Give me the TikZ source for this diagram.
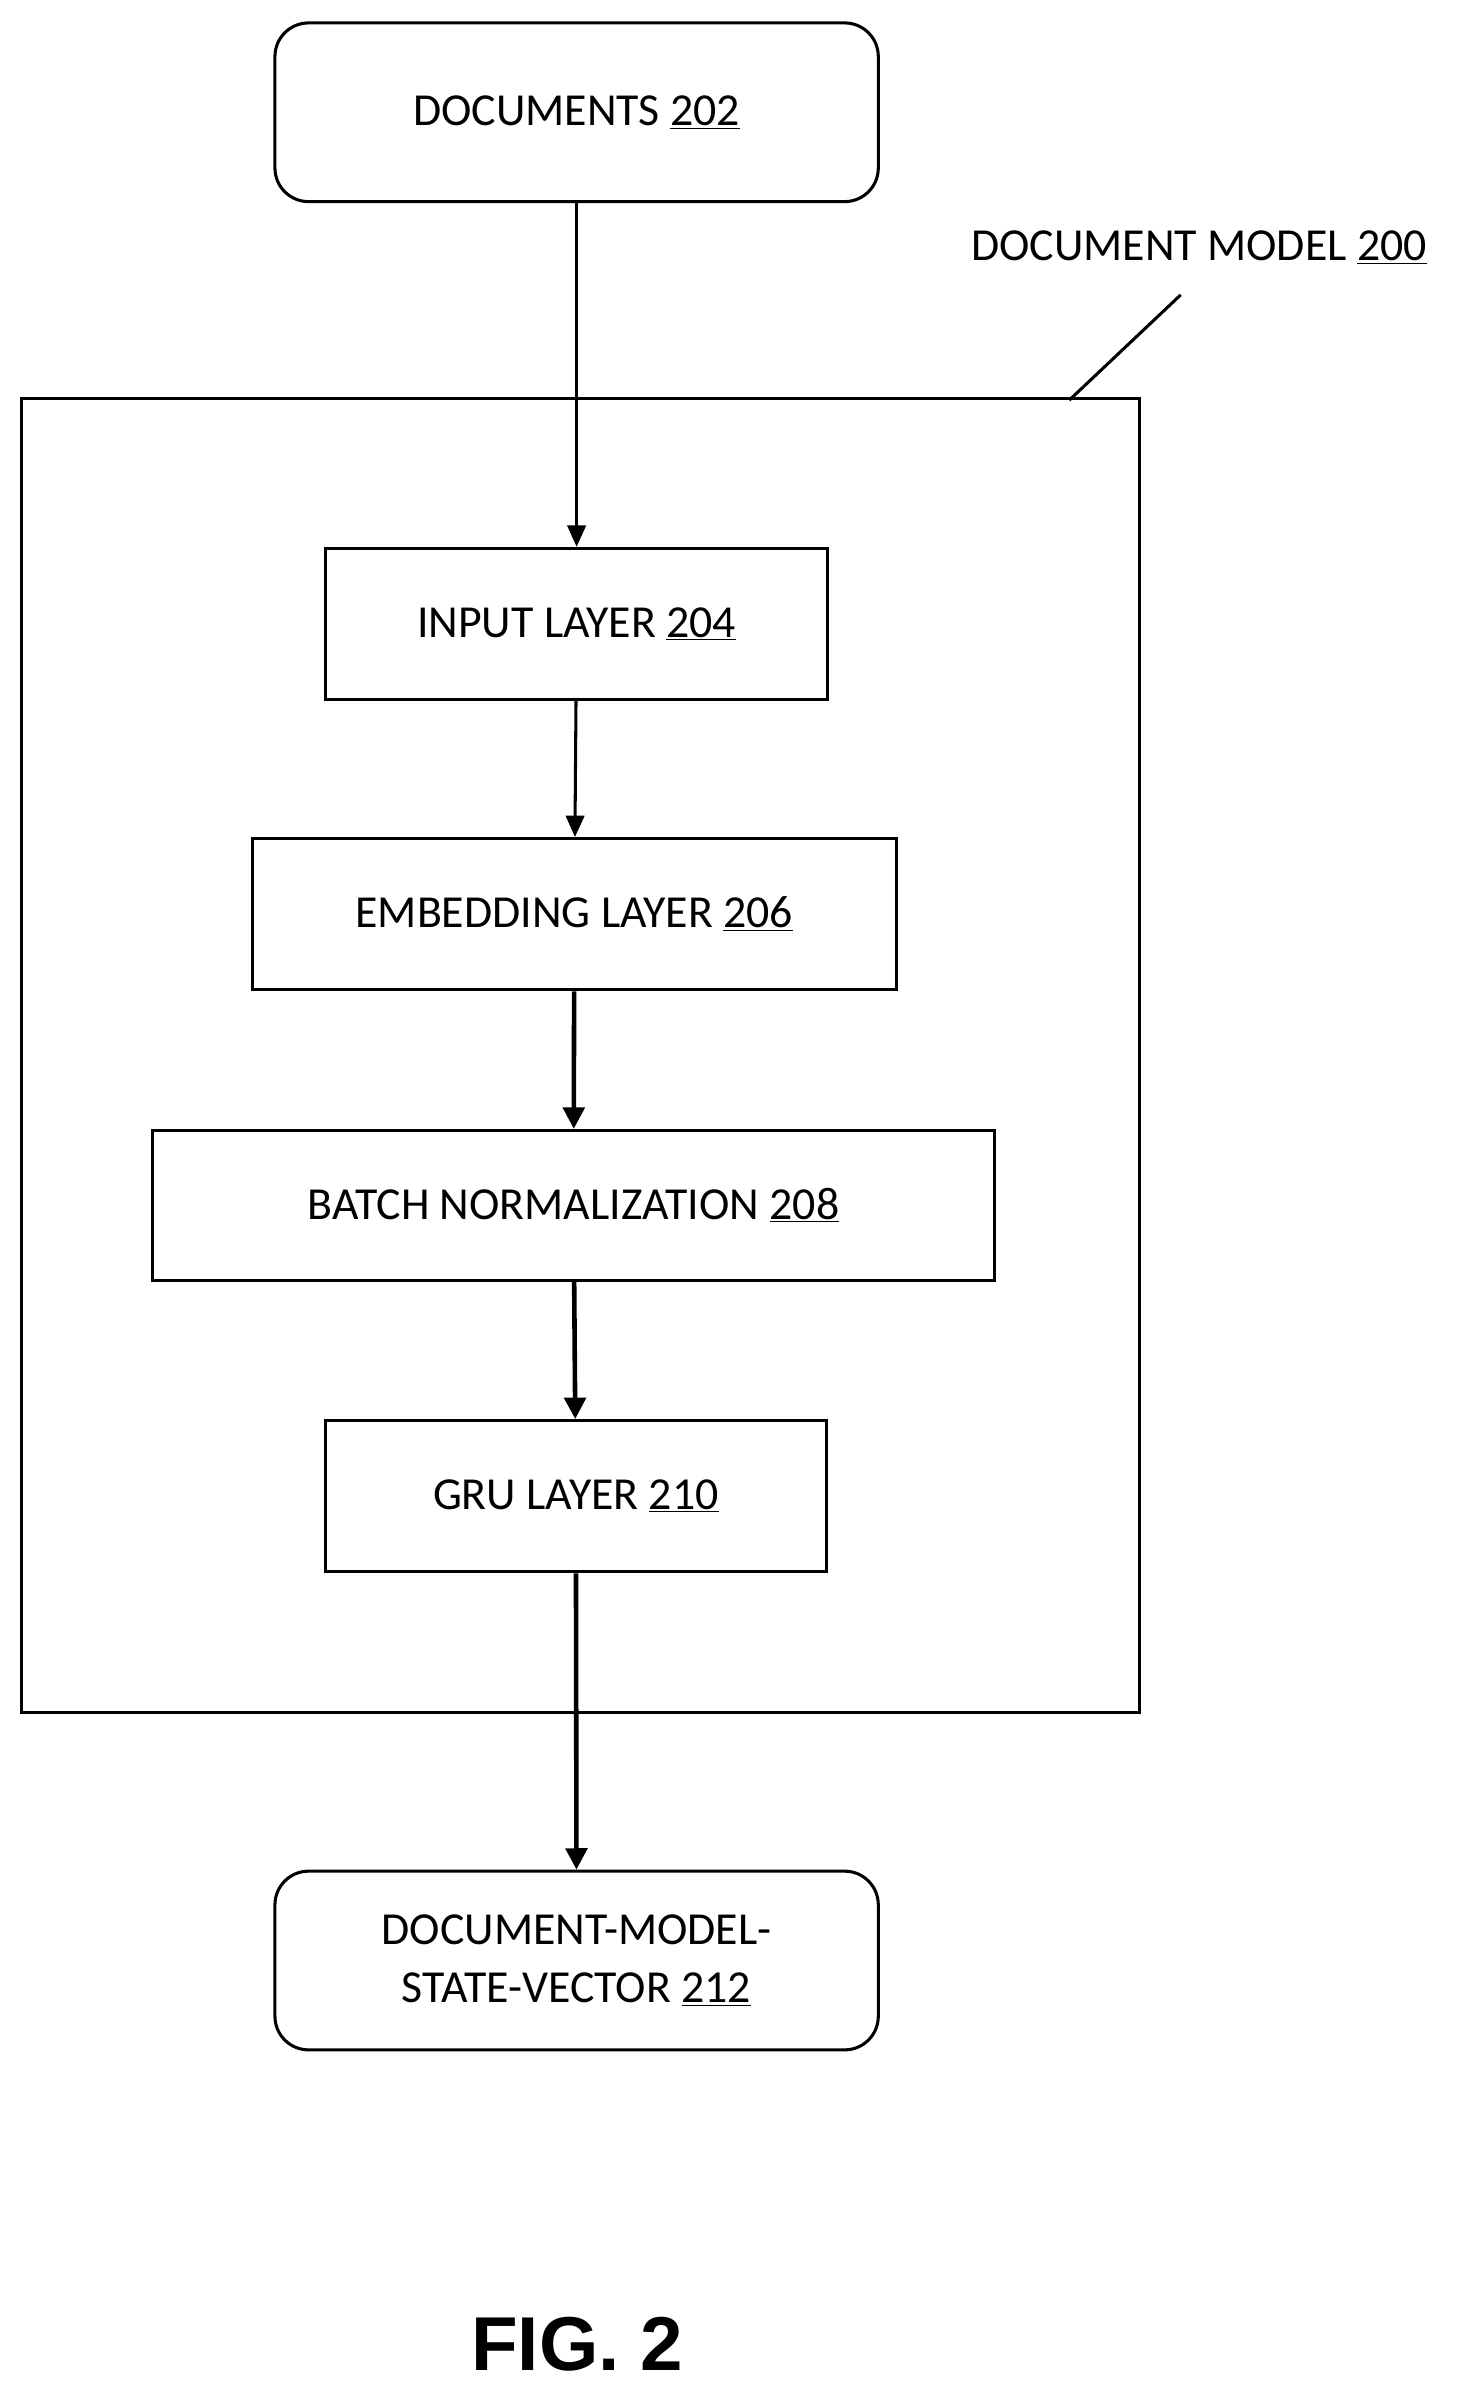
\documentclass[tikz,border=0pt]{standalone}
\usepackage{fontspec}
\setmainfont{Carlito}
\newfontfamily\figfont{Liberation Sans}
\usetikzlibrary{arrows.meta}
\begin{document}
\begin{tikzpicture}[x=1pt,y=-1pt,
  box/.style={draw,line width=2pt,font=\fontsize{30}{38}\selectfont,align=center},
  rbox/.style={box,rounded corners=22pt},
  arr/.style={line width=2pt,-{Triangle[length=14pt,width=12pt]}},
  tarr/.style={line width=3pt,-{Triangle[length=14pt,width=14pt]}}]
\useasboundingbox (0,0) rectangle (960,1566);
\draw[line width=2pt] (14,261) rectangle (746,1121);
\node[rbox,minimum width=395pt,minimum height=117pt] (doc) at (377.5,73.5) {DOCUMENTS \underline{202}};
\node[font=\fontsize{30}{38}\selectfont] (dm) at (785,162) {DOCUMENT MODEL \underline{200}};
\coordinate (l1) at (773,193);
\coordinate (l2) at (700,262);
\draw[line width=2pt] (l1) -- (l2);
\node[box,minimum width=329pt,minimum height=99pt] (in) at (377.5,408.5) {INPUT LAYER \underline{204}};
\node[box,minimum width=422pt,minimum height=99pt] (emb) at (376,598.5) {EMBEDDING LAYER \underline{206}};
\node[box,minimum width=551pt,minimum height=98pt] (bn) at (375.5,789) {BATCH NORMALIZATION \underline{208}};
\node[box,minimum width=328pt,minimum height=99pt] (gru) at (377,979.5) {GRU LAYER \underline{210}};
\node[rbox,minimum width=395pt,minimum height=117pt] (out) at (377.5,1283.5) {DOCUMENT-MODEL-\\STATE-VECTOR \underline{212}};
\node[font=\figfont\bfseries\fontsize{50}{56}\selectfont] (fig) at (378,1535) {FIG. 2};
\draw[arr] (doc) -- (in);
\draw[arr] (in) -- (emb);
\draw[tarr] (emb) -- (bn);
\draw[tarr] (bn) -- (gru);
\draw[tarr] (gru) -- (out);
\end{tikzpicture}
\end{document}
